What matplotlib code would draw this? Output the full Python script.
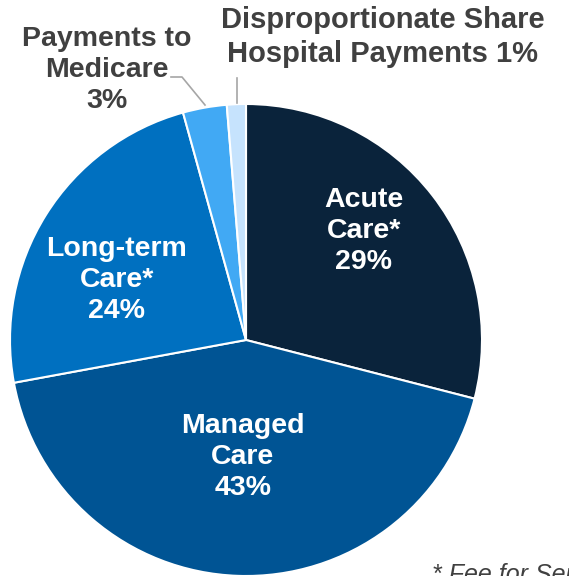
import matplotlib
matplotlib.use("Agg")
import matplotlib.pyplot as plt

categories = ["Acute Care*", "Managed Care", "Long-term Care*", "Payments to Medicare",
              "Disproportionate Share Hospital Payments"]
values = [29.0, 43.1, 23.6, 3.0, 1.3]
labels = ["Acute\nCare*\n29%", "Managed\nCare\n43%", "Long-term\nCare*\n24%",
          "Payments to\nMedicare\n3%", "Disproportionate Share\nHospital Payments 1%"]
colors = ["#0a233b", "#005494", "#0070c0", "#41a9f4", "#c6e3fd"]
footnote = "* Fee for Service"

plt.rcParams['font.family'] = ['Liberation Sans', 'DejaVu Sans']

W, H = 569, 576
fig = plt.figure(figsize=(W / 100, H / 100), dpi=100)
ax = fig.add_axes([0, 0, 1, 1])

cx, cy, r = 246, H - 340, 236
ax.pie(values, colors=colors, startangle=90, counterclock=False,
       center=(cx, cy), radius=r, frame=True,
       wedgeprops=dict(edgecolor="white", linewidth=1.5))
ax.set_xlim(0, W)
ax.set_ylim(0, H)
ax.set_aspect('equal')
ax.axis('off')

txt = dict(ha="center", va="center", fontweight="bold", linespacing=1.27)
ax.text(364, H - 231, labels[0], color="white", fontsize=20.5, **txt)
ax.text(243, H - 457, labels[1], color="white", fontsize=20.5, **txt)
ax.text(117, H - 280, labels[2], color="white", fontsize=20.5, **txt)
ax.text(107, H - 70, labels[3], color="#404040", fontsize=20.5, **txt)
ax.text(383, H - 37, labels[4], color="#404040", fontsize=21, **txt)

# leader lines
ax.plot([171, 182, 205], [H - 77, H - 77, H - 105], color="#a6a6a6", lw=1.2)
ax.plot([237, 237], [H - 78, H - 103], color="#a6a6a6", lw=1.2)

ax.text(432, H - 563, footnote, ha="left", va="top", fontsize=18,
        fontstyle="italic", color="#404040")

fig.savefig("out.png", dpi=100)
